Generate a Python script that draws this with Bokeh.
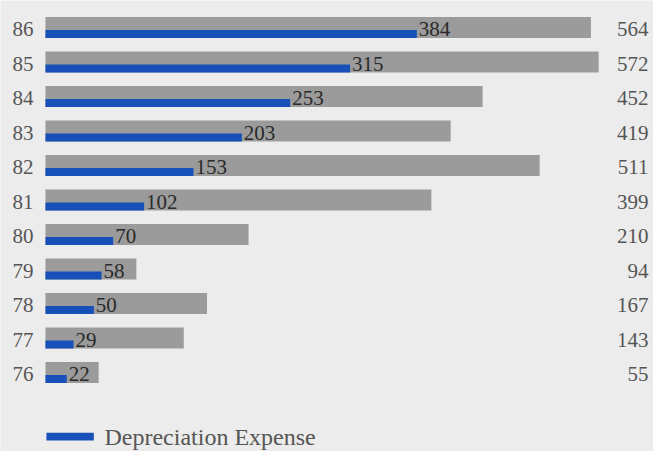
from bokeh.plotting import figure
from bokeh.models import ColumnDataSource, Range1d
from bokeh.core.properties import value
from bokeh.embed import file_html
from bokeh.resources import INLINE

years = [86, 85, 84, 83, 82, 81, 80, 79, 78, 77, 76]
year_labels = ["86", "85", "84", "83", "82", "81", "80", "79", "78", "77", "76"]
capital = [564, 572, 452, 419, 511, 399, 210, 94, 167, 143, 55]
depreciation = [384, 315, 253, 203, 153, 102, 70, 58, 50, 29, 22]

BAR_H = 0.61
BLUE_H = 0.23
FONT = value("Liberation Serif")

src = ColumnDataSource(dict(
    y=years,
    ylab=year_labels,
    cap=capital,
    dep=depreciation,
    cap_lab=[str(v) for v in capital],
    dep_lab=[str(v) for v in depreciation],
    blue_y=[y - BAR_H / 2 + BLUE_H / 2 for y in years],
    txt_y=[y - 0.05 for y in years],
))

p = figure(width=653, height=451, output_backend="svg", toolbar_location=None,
           x_range=Range1d(-46.5, 628.7), y_range=Range1d(73.71, 86.78),
           min_border=0, border_fill_color="#ececec", background_fill_color="#ececec")
p.axis.visible = False
p.grid.visible = False
p.outline_line_color = None

p.hbar(y="y", left=0, right="cap", height=BAR_H, source=src,
       fill_color="#9b9b9b", line_color=None)
p.hbar(y="blue_y", left=0, right="dep", height=BLUE_H, source=src,
       fill_color="#1650b8", line_color=None)

p.text(x="dep", y="txt_y", text="dep_lab", source=src, x_offset=2,
       text_font=FONT, text_font_size="21px", text_color="#2a2a2a",
       text_baseline="middle", text_align="left")
p.text(x=-12.4, y="txt_y", text="ylab", source=src,
       text_font=FONT, text_font_size="21px", text_color="#555555",
       text_baseline="middle", text_align="right")
p.text(x=623.6, y="txt_y", text="cap_lab", source=src,
       text_font=FONT, text_font_size="21px", text_color="#555555",
       text_baseline="middle", text_align="right")

# legend
p.hbar(y=[74.14], left=[1], right=[50], height=[0.22],
       fill_color="#1650b8", line_color=None)
p.text(x=[61], y=[74.14], text=["Depreciation Expense"],
       text_font=FONT, text_font_size="24px", text_color="#555555",
       text_baseline="middle", text_align="left")

open("out.html", "w").write(file_html(p, INLINE))
